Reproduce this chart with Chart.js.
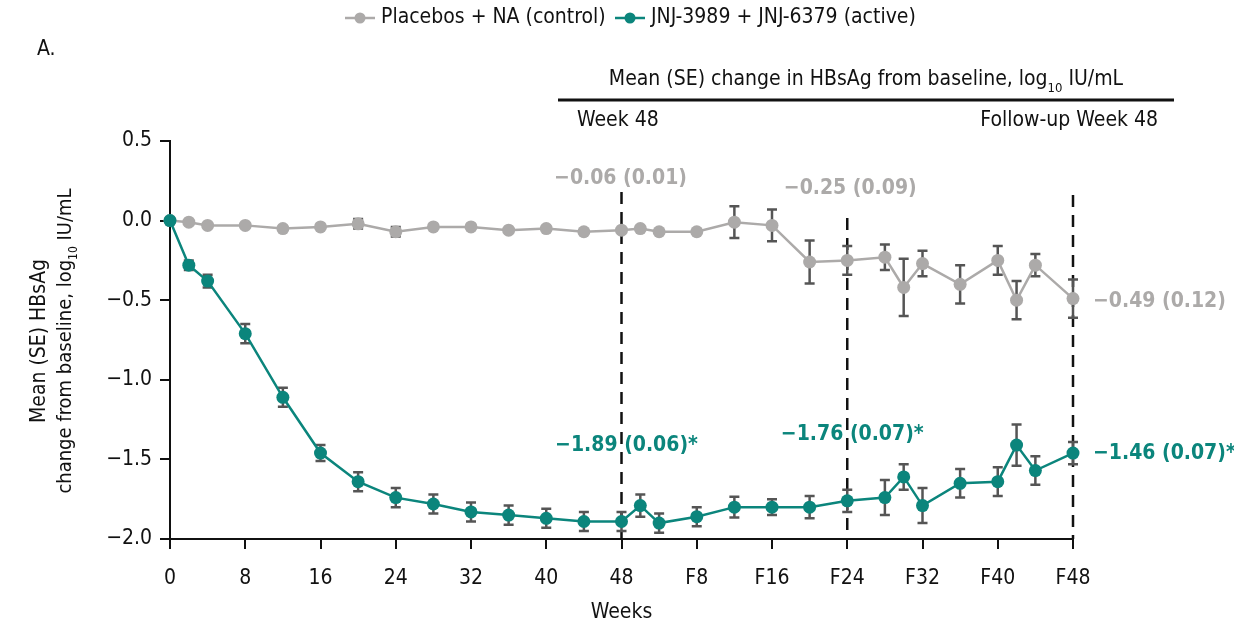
<!DOCTYPE html>
<html>
<head>
<meta charset="utf-8">
<script src="https://cdn.jsdelivr.net/npm/chart.js@4.4.1/dist/chart.umd.min.js"></script>
<style>
  html, body { margin: 0; padding: 0; background: #fff; }
  #chart { display: block; }
</style>
</head>
<body>
<canvas id="chart" width="1234" height="632"></canvas>
<script>
// ---------- data ----------
const weeks      = [0, 2, 4, 8, 12, 16, 20, 24, 28, 32, 36, 40, 44, 48, 50, 52, 56, 60, 64, 68, 72, 76, 78, 80, 84, 88, 90, 92, 96];
const tickLabels = ['0', '8', '16', '24', '32', '40', '48', 'F8', 'F16', 'F24', 'F32', 'F40', 'F48'];

const placeboMean = [0, -0.01, -0.03, -0.03, -0.05, -0.04, -0.02, -0.07, -0.04, -0.04, -0.06, -0.05, -0.07, -0.06,
                     -0.05, -0.07, -0.07, -0.01, -0.03, -0.26, -0.25, -0.23, -0.42, -0.27, -0.40, -0.25, -0.50, -0.28, -0.49];
const placeboSE   = [0, 0.01, 0.01, 0.01, 0.01, 0.01, 0.03, 0.03, 0.01, 0.01, 0.01, 0.01, 0.01, 0.01,
                     0.01, 0.01, 0.01, 0.10, 0.10, 0.135, 0.09, 0.08, 0.18, 0.08, 0.12, 0.09, 0.12, 0.07, 0.12];

const activeMean  = [0, -0.28, -0.38, -0.71, -1.11, -1.46, -1.64, -1.74, -1.78, -1.83, -1.85, -1.87, -1.89, -1.89,
                     -1.79, -1.90, -1.86, -1.80, -1.80, -1.80, -1.76, -1.74, -1.61, -1.79, -1.65, -1.64, -1.41, -1.57, -1.46];
const activeSE    = [0, 0.03, 0.04, 0.06, 0.06, 0.05, 0.06, 0.06, 0.06, 0.06, 0.06, 0.06, 0.06, 0.06,
                     0.07, 0.06, 0.06, 0.065, 0.05, 0.07, 0.07, 0.11, 0.08, 0.11, 0.09, 0.09, 0.13, 0.09, 0.07];

const seriesNames = ['Placebos + NA (control)', 'JNJ-3989 + JNJ-6379 (active)'];
const dashWeeks   = [48, 72, 96];

// value labels: [week, text, series]
const valueLabels = [
  [48, '\u22120.06 (0.01)', 0],
  [72, '\u22120.25 (0.09)', 0],
  [96, '\u22120.49 (0.12)', 0],
  [48, '\u22121.89 (0.06)*', 1],
  [72, '\u22121.76 (0.07)*', 1],
  [96, '\u22121.46 (0.07)*', 1]
];

// ---------- styles ----------
const FONT  = '"Liberation Sans Narrow", "DejaVu Sans Condensed", "Liberation Sans", sans-serif';
const GRAY  = '#acaaa9';
const TEAL  = '#0b857c';
const ERR   = '#555555';
const FS    = 21;
const toPts = (m) => weeks.map((w, i) => ({ x: w, y: m[i] }));
const fmt   = (v) => (v < 0 ? '\u2212' : '') + Math.abs(v).toFixed(1);

// text with a subscript piece: parts = [[text, isSub], ...]
function richText(ctx, parts, x, y, size, align) {
  const big = `${size}px ${FONT}`, small = `${Math.round(size * 0.6)}px ${FONT}`;
  let total = 0;
  parts.forEach(([t, sub]) => { ctx.font = sub ? small : big; total += ctx.measureText(t).width; });
  let cx = align === 'center' ? x - total / 2 : (align === 'right' ? x - total : x);
  ctx.textAlign = 'left';
  ctx.textBaseline = 'middle';
  parts.forEach(([t, sub]) => {
    ctx.font = sub ? small : big;
    ctx.fillText(t, cx, sub ? y + size * 0.4 : y);
    cx += ctx.measureText(t).width;
  });
}

// ---------- 自定义绘制 ----------
const decor = {
  id: 'decor',
  beforeDatasetsDraw(chart) {
    const { ctx, scales: { x, y } } = chart;
    ctx.save();
    // dashed reference lines
    const tops = [192, 218, 195];
    ctx.strokeStyle = '#111';
    ctx.lineWidth = 2.5;
    ctx.setLineDash([12, 8]);
    dashWeeks.forEach((w, i) => {
      const px = x.getPixelForValue(w);
      ctx.beginPath();
      ctx.moveTo(px, tops[i]);
      ctx.lineTo(px, y.bottom);
      ctx.stroke();
    });
    ctx.setLineDash([]);
    // error bars
    ctx.strokeStyle = ERR;
    ctx.lineWidth = 2.5;
    [[placeboMean, placeboSE], [activeMean, activeSE]].forEach(([m, se]) => {
      weeks.forEach((w, i) => {
        if (!se[i]) return;
        const px = x.getPixelForValue(w);
        const y1 = y.getPixelForValue(m[i] + se[i]);
        const y2 = y.getPixelForValue(m[i] - se[i]);
        ctx.beginPath();
        ctx.moveTo(px, y1); ctx.lineTo(px, y2);
        ctx.moveTo(px - 5, y1); ctx.lineTo(px + 5, y1);
        ctx.moveTo(px - 5, y2); ctx.lineTo(px + 5, y2);
        ctx.stroke();
      });
    });
    ctx.restore();
  },
  afterDraw(chart) {
    const { ctx, scales: { x, y } } = chart;
    ctx.save();
    ctx.fillStyle = '#111';

    // legend
    const legendItems = [[345, GRAY], [615, TEAL]];
    legendItems.forEach(([lx, c], i) => {
      ctx.strokeStyle = c; ctx.fillStyle = c; ctx.lineWidth = 2.5;
      ctx.beginPath(); ctx.moveTo(lx, 18); ctx.lineTo(lx + 30, 18); ctx.stroke();
      ctx.beginPath(); ctx.arc(lx + 15, 18, 5.5, 0, Math.PI * 2); ctx.fill();
      ctx.fillStyle = '#111';
      ctx.font = `${FS}px ${FONT}`;
      ctx.textAlign = 'left'; ctx.textBaseline = 'middle';
      ctx.fillText(seriesNames[i], lx + 36, 18);
    });

    // panel letter
    ctx.font = `${FS}px ${FONT}`;
    ctx.fillText('A.', 37, 50);

    // header block
    richText(ctx, [['Mean (SE) change in HBsAg from baseline, log', false], ['10', true], [' IU/mL', false]], 866, 80, FS, 'center');
    ctx.strokeStyle = '#111'; ctx.lineWidth = 3;
    ctx.beginPath(); ctx.moveTo(558, 100); ctx.lineTo(1174, 100); ctx.stroke();
    ctx.font = `${FS}px ${FONT}`;
    ctx.textAlign = 'left'; ctx.fillText('Week 48', 577, 121);
    ctx.textAlign = 'right'; ctx.fillText('Follow-up Week 48', 1158, 121);

    // value labels
    const labelPos = { '48-0': ['center', -1, 179], '72-0': ['center', 3, 189], '96-0': ['left', 20, 302],
                       '48-1': ['center', 5, 446], '72-1': ['center', 5, 435], '96-1': ['left', 20, 454] };
    ctx.font = `bold 21px ${FONT}`;
    valueLabels.forEach(([w, t, s]) => {
      const [al, dx, py] = labelPos[w + '-' + s];
      ctx.fillStyle = s ? TEAL : GRAY;
      ctx.textAlign = al;
      ctx.fillText(t, x.getPixelForValue(w) + dx, py);
    });

    // axis titles
    ctx.fillStyle = '#111';
    ctx.font = `${FS}px ${FONT}`;
    ctx.textAlign = 'center';
    ctx.fillText('Weeks', (x.left + x.right) / 2, 613);
    ctx.save();
    ctx.translate(0, 341);
    ctx.rotate(-Math.PI / 2);
    ctx.font = `${FS}px ${FONT}`;
    ctx.textAlign = 'center'; ctx.textBaseline = 'middle';
    ctx.fillText('Mean (SE) HBsAg', 0, 40);
    richText(ctx, [['change from baseline, log', false], ['10', true], [' IU/mL', false]], 0, 66, 20, 'center');
    ctx.restore();

    ctx.restore();
  }
};

// ---------- chart ----------
new Chart(document.getElementById('chart'), {
  type: 'line',
  data: {
    datasets: [
      { label: seriesNames[0], data: toPts(placeboMean), borderColor: GRAY, backgroundColor: GRAY,
        borderWidth: 2.5, pointRadius: 6.5, pointBorderWidth: 0, order: 1, clip: false },
      { label: seriesNames[1], data: toPts(activeMean), borderColor: TEAL, backgroundColor: TEAL,
        borderWidth: 2.5, pointRadius: 6.5, pointBorderWidth: 0, order: 0, clip: false }
    ]
  },
  options: {
    responsive: false,
    devicePixelRatio: 1,
    animation: false,
    layout: { padding: { top: 141, right: 161, bottom: 0, left: 0 } },
    plugins: { legend: { display: false }, tooltip: { enabled: false } },
    scales: {
      x: {
        type: 'linear', min: 0, max: 96,
        afterFit(s) { s.height = 93; },
        ticks: { stepSize: 8, padding: 17, color: '#111', font: { family: FONT, size: FS },
                 callback: (v) => tickLabels[v / 8] },
        grid: { drawOnChartArea: false, drawTicks: true, tickLength: 10, color: '#111', lineWidth: 2 },
        border: { color: '#111', width: 2 }
      },
      y: {
        min: -2, max: 0.5,
        afterFit(s) { s.width = 170; },
        ticks: { stepSize: 0.5, padding: 8, color: '#111', font: { family: FONT, size: FS },
                 callback: (v) => fmt(v) },
        grid: { drawOnChartArea: false, drawTicks: true, tickLength: 10, color: '#111', lineWidth: 2 },
        border: { color: '#111', width: 2 }
      }
    }
  },
  plugins: [decor]
});
</script>
</body>
</html>
